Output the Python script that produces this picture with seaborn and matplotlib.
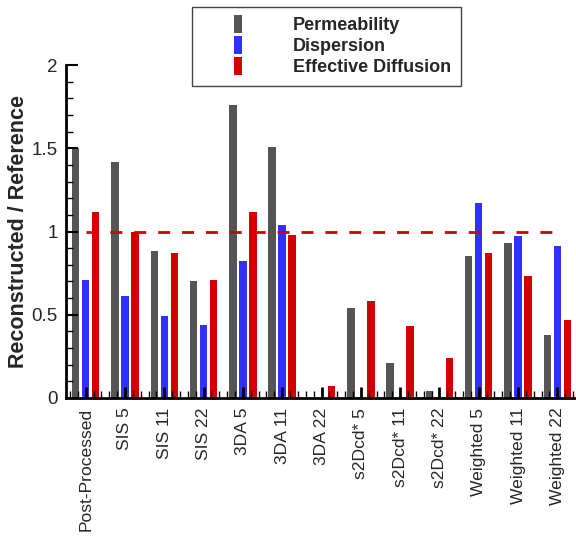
import pandas as pd
import matplotlib
matplotlib.use("Agg")
import matplotlib.pyplot as plt
from matplotlib.lines import Line2D
from matplotlib.ticker import MultipleLocator
import seaborn as sns

# values
cases = ['Post-Processed', 'SIS 5', 'SIS 11', 'SIS 22', '3DA 5', '3DA 11', '3DA 22',
         's2Dcd* 5', 's2Dcd* 11', 's2Dcd* 22', 'Weighted 5', 'Weighted 11', 'Weighted 22']
permeability = [1.50, 1.42, 0.88, 0.70, 1.76, 1.51, 0.0, 0.54, 0.21, 0.04, 0.85, 0.93, 0.38]
dispersion = [0.71, 0.61, 0.49, 0.44, 0.82, 1.04, 0.0, 0.0, 0.0, 0.0, 1.17, 0.97, 0.91]
diffusion = [1.12, 1.00, 0.87, 0.71, 1.12, 0.98, 0.07, 0.58, 0.43, 0.24, 0.87, 0.73, 0.47]
metrics = ['Permeability', 'Dispersion', 'Effective Diffusion']
colors = ['#555555', '#3030FF', '#D20000']
ref_value = 1.0
yticks = [0, 0.5, 1, 1.5, 2]
ytick_labels = ['0', '0.5', '1', '1.5', '2']

df = pd.DataFrame({
    'case': cases * 3,
    'metric': [m for m in metrics for _ in cases],
    'value': permeability + dispersion + diffusion,
})

sns.set_style("ticks")
plt.rcParams['font.family'] = ['Liberation Sans', 'DejaVu Sans']

fig = plt.figure(figsize=(5.76, 5.37), dpi=100)
ax = fig.add_axes([66 / 576, 1 - 398 / 537, 511 / 576, 333 / 537])

sns.barplot(data=df, x='case', y='value', hue='metric', hue_order=metrics,
            palette=colors, width=0.762, gap=0.25, saturation=1,
            errorbar=None, ax=ax, legend=False, linewidth=0)

# reference line at 1
ax.plot([0, len(cases) - 1], [ref_value, ref_value], color='#D20000',
        linewidth=2, dashes=(4.3, 4.3), zorder=3)

ax.set_xlim(-0.5, len(cases) - 0.5)
ax.set_ylim(0, 2)
ax.set_yticks(yticks)
ax.set_yticklabels(ytick_labels)
ax.yaxis.set_minor_locator(MultipleLocator(0.1))
ax.xaxis.set_minor_locator(MultipleLocator(0.2))
ax.set_xticks(range(len(cases)))
ax.set_xticklabels(cases, rotation=90)

ax.tick_params(axis='y', which='major', direction='in', length=8.5, width=1.5,
               labelsize=13.5, pad=6, color='black')
ax.tick_params(axis='y', which='minor', direction='in', length=5, width=1, color='black')
ax.tick_params(axis='x', which='major', direction='in', length=8, width=2,
               labelsize=12.6, pad=7, color='black')
ax.tick_params(axis='x', which='minor', direction='in', length=5, width=1, color='black')
ax.set_axisbelow(False)

for side in ['top', 'right']:
    ax.spines[side].set_visible(False)
for side in ['left', 'bottom']:
    ax.spines[side].set_linewidth(2)
    ax.spines[side].set_color('black')

ax.set_xlabel('')
ax.set_ylabel('Reconstructed / Reference', fontsize=15.5, fontweight='bold', labelpad=1.5)

# legend with narrow tall swatches
swatch = [(-0.2, -0.5), (0.2, -0.5), (0.2, 0.5), (-0.2, 0.5), (-0.2, -0.5)]
handles = [Line2D([], [], linestyle='none', marker=swatch, markersize=13,
                  markerfacecolor=c, markeredgecolor=c, markeredgewidth=0)
           for c in colors]
leg = fig.legend(handles, metrics, loc='upper left',
                 bbox_to_anchor=(192 / 576, 1 - 7 / 537), bbox_transform=fig.transFigure,
                 borderaxespad=0, frameon=True, fancybox=False, framealpha=1,
                 edgecolor='#444444', handlelength=4.05, handletextpad=1.0,
                 borderpad=0.55, labelspacing=0.22,
                 prop={'size': 13, 'weight': 'bold'})
leg.get_frame().set_linewidth(1)

fig.savefig('out.png', dpi=100)
